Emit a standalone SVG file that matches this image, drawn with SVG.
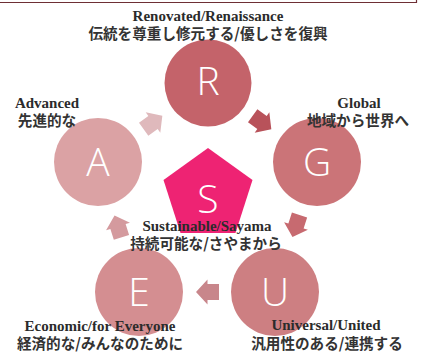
<svg xmlns="http://www.w3.org/2000/svg" width="421" height="352" viewBox="0 0 421 352">
<style>
.en{font-family:"Liberation Serif","Times New Roman",serif;font-weight:bold;font-size:15px;fill:#2b2b2b;text-anchor:middle}
.jp{font-family:"Noto Sans CJK JP","Noto Sans",sans-serif;font-weight:bold;font-size:14.6px;fill:#333333;text-anchor:middle}
.lt{font-family:"Open Sans","Noto Sans",sans-serif;font-weight:300;font-size:39px;fill:#ffffff;text-anchor:middle}
</style>
<defs>
<path id="arr" d="M-11.5,-8 L0,-8 L0,-12.5 L11.5,0 L0,12.5 L0,8 L-11.5,8 Z"/>
</defs>
<rect width="421" height="352" fill="#ffffff"/>
<path d="M0,2.5 H416.5 V0" fill="none" stroke="#6e2f35" stroke-width="1.2"/>
<g id="connectors">
<use href="#arr" fill="#dfb9bc" transform="translate(153,122.5) rotate(-35.7)"/>
<use href="#arr" fill="#b8525a" transform="translate(262,122.5) rotate(35.9)"/>
<use href="#arr" fill="#c76a70" transform="translate(296,226) rotate(107.9)"/>
<use href="#arr" fill="#c8868b" transform="translate(207.5,292) rotate(180)"/>
<use href="#arr" fill="#d49a9e" transform="translate(118,226.5) rotate(-107.5)"/>
</g>
<g id="node-R">
<circle cx="208" cy="83" r="43.5" fill="#c4636a"/>
<text class="lt" x="208" y="94.5">R</text>
<text class="en" x="208" y="21">Renovated/Renaissance</text>
<text class="jp" x="208" y="38.5">伝統を尊重し修元する/優しさを復興</text>
</g>
<g id="node-G">
<circle cx="317" cy="162" r="44" fill="#cb7478"/>
<text class="lt" x="317" y="176">G</text>
<text class="en" x="359" y="108">Global</text>
<text class="jp" x="358" y="125.5">地域から世界へ</text>
</g>
<g id="node-U">
<circle cx="275" cy="292" r="44" fill="#cd7f82"/>
<text class="lt" x="275" y="305.5">U</text>
<text class="en" x="326" y="330">Universal/United</text>
<text class="jp" x="327" y="348.5">汎用性のある/連携する</text>
</g>
<g id="node-E">
<circle cx="139" cy="292" r="44" fill="#d48e91"/>
<text class="lt" x="139" y="305.5">E</text>
<text class="en" x="100" y="331">Economic/for Everyone</text>
<text class="jp" x="100" y="348.5">経済的な/みんなのために</text>
</g>
<g id="node-A">
<circle cx="98" cy="162" r="44" fill="#dba2a4"/>
<text class="lt" x="98" y="176">A</text>
<text class="en" x="47" y="108">Advanced</text>
<text class="jp" x="47" y="126">先進的な</text>
</g>
<g id="node-S">
<polygon points="208,148 252.5,180 235.5,233 180.5,233 163.5,180" fill="#ee2373"/>
<text class="lt" x="208" y="213">S</text>
<text class="en" x="207" y="231">Sustainable/Sayama</text>
<text class="jp" x="206" y="249">持続可能な/さやまから</text>
</g>
</svg>
